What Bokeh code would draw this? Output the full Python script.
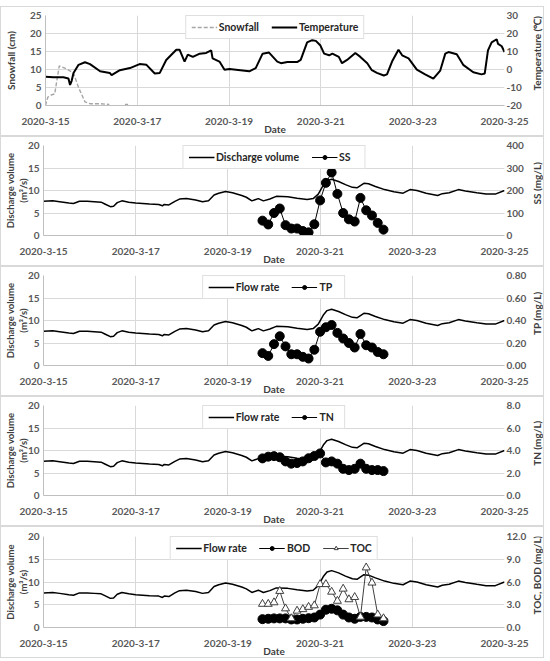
import math
from bokeh.plotting import figure
from bokeh.models import (Range1d, LinearAxis, FixedTicker, Legend, LegendItem,
                          NumeralTickFormatter, Spacer)
from bokeh.core.properties import value
from bokeh.layouts import column, row
from bokeh.embed import file_html
from bokeh.resources import INLINE

# x positions are days since 2020-03-15 00:00
date_ticks = [0, 2, 4, 6, 8, 10]
date_labels = ["2020-3-15", "2020-3-17", "2020-3-19", "2020-3-21", "2020-3-23", "2020-3-25"]

# snowfall (cm)
snow_day = [0.0, 0.05, 0.14, 0.20, 0.30, 0.45, 0.61, 0.72, 0.86, 0.97, 1.19, 1.39, math.nan, 1.73, 1.80]
snow_cm = [0.0, 2.3, 3.0, 3.2, 11.0, 10.2, 9.0, 5.0, 1.0, 0.5, 0.5, 0.3, math.nan, 0.3, 0.3]

# air temperature (deg C)
temp_day = [0.00, 0.17, 0.39, 0.50, 0.535, 0.57, 0.61, 0.72, 0.86, 0.97, 1.19, 1.40, 1.44, 1.62,
            1.84, 2.05, 2.20, 2.38, 2.49, 2.63, 2.85, 2.92, 3.03, 3.10, 3.21, 3.36, 3.50, 3.61,
            3.64, 3.79, 3.90, 4.01, 4.15, 4.44, 4.58, 4.73, 4.87, 5.05, 5.13, 5.27, 5.49, 5.56,
            5.70, 5.81, 5.89, 5.99, 6.07, 6.18, 6.25, 6.39, 6.46, 6.57, 6.75, 6.86, 7.01, 7.11,
            7.22, 7.37, 7.44, 7.55, 7.69, 7.77, 7.91, 8.09, 8.27, 8.45, 8.60, 8.71, 8.78, 8.96,
            9.10, 9.32, 9.50, 9.57, 9.64, 9.72, 9.83, 9.86, 9.94, 10.0]
temp_c = [-4.0, -4.3, -4.3, -5.0, -8.6, -6.3, -1.9, 2.6, 4.0, 3.0, -1.0, -1.9, -3.1, -0.4,
          0.8, 3.0, 2.6, -2.2, -1.9, 5.3, 11.0, 11.0, 4.4, 8.3, 7.0, 8.8, 9.2, 10.6,
          6.2, 4.4, -0.1, 0.3, -0.1, -1.0, 0.8, 8.8, 9.4, 4.4, 3.5, 4.2, 4.2, 5.3,
          15.1, 16.3, 15.9, 13.3, 8.8, 7.9, 8.8, 7.0, 3.5, 5.3, 9.2, 7.0, 3.5, -0.4,
          -1.9, -3.3, -2.7, 4.4, 11.0, 7.9, 6.2, -0.1, -2.7, -5.1, -0.6, 8.8, 9.7, 8.5,
          2.6, -1.5, -2.7, -2.2, 10.6, 15.1, 16.8, 14.2, 12.9, 9.7]

# discharge volume / flow rate (m3/s)
flow_day = [0.00, 0.20, 0.35, 0.55, 0.65, 0.78, 0.95, 1.10, 1.25, 1.33, 1.45, 1.52, 1.60, 1.70,
            1.85, 2.00, 2.30, 2.50, 2.58, 2.62, 2.72, 2.85, 2.95, 3.10, 3.30, 3.45, 3.58, 3.70,
            3.80, 3.95, 4.10, 4.30, 4.40, 4.52, 4.66, 4.77, 4.91, 5.05, 5.30, 5.50, 5.72, 5.85,
            5.96, 6.07, 6.15, 6.25, 6.40, 6.55, 6.70, 6.80, 6.95, 7.05, 7.20, 7.40, 7.60, 7.80,
            7.95, 8.10, 8.30, 8.55, 8.65, 8.80, 9.00, 9.15, 9.40, 9.60, 9.80, 10.0]
flow_m3s = [7.6, 7.7, 7.5, 7.2, 7.1, 7.6, 7.6, 7.5, 7.4, 7.0, 6.4, 6.5, 7.3, 7.7,
            7.4, 7.2, 7.0, 6.9, 6.6, 6.9, 6.8, 7.6, 8.1, 8.2, 7.9, 7.5, 7.7, 9.0,
            9.4, 9.8, 9.5, 8.9, 8.5, 7.7, 8.2, 7.7, 8.1, 8.7, 8.6, 8.3, 8.0, 8.2,
            9.2, 11.2, 12.2, 12.5, 12.0, 11.3, 10.7, 10.6, 11.6, 11.5, 10.9, 10.2, 9.7, 9.4,
            10.2, 10.0, 9.4, 8.9, 9.3, 9.5, 10.2, 9.9, 9.5, 9.2, 9.2, 10.0]

# water quality samples (3-hourly), mg/L
sample_day = [4.75, 4.875, 5.0, 5.125, 5.25, 5.375, 5.5, 5.625, 5.75, 5.875, 6.0,
              6.125, 6.25, 6.375, 6.5, 6.625, 6.75, 6.875, 7.0, 7.125, 7.25, 7.375]
ss = [66, 49, 100, 120, 46, 31, 31, 20, 14, 50, 156, 234, 280, 185, 100, 72, 62, 167, 112, 89, 56, 26]
tp = [0.11, 0.085, 0.19, 0.26, 0.17, 0.10, 0.10, 0.077, 0.062, 0.14, 0.30,
      0.34, 0.36, 0.29, 0.24, 0.20, 0.16, 0.28, 0.18, 0.16, 0.12, 0.10]
tn = [3.3, 3.45, 3.5, 3.4, 3.03, 2.83, 2.89, 3.03, 3.31, 3.51, 3.74,
      2.94, 3.03, 2.83, 2.37, 2.26, 2.37, 2.83, 2.37, 2.26, 2.26, 2.17]
bod = [1.1, 1.15, 1.2, 1.2, 1.2, 1.06, 1.06, 1.15, 1.23, 1.32, 1.7,
       2.34, 2.47, 2.26, 1.7, 1.32, 1.15, 1.4, 1.4, 1.32, 1.06, 0.85]
toc = [3.1, 3.1, 3.3, 4.8, 2.5, 1.2, 2.2, 2.4, 2.7, 2.9, 5.7,
       5.7, 4.7, 3.5, 5.1, 3.7, 4.0, 1.4, 7.9, 5.9, 1.7, 1.2]

FONT = "Lato"
TICK_COLOR = "#595959"
TITLE_COLOR = "#404040"
GRID = "#d9d9d9"
BOX = "1px solid #d9d9d9"
MAIN_W = 530
STRIP_W = 14
BOTTOM = 29
FLOW_LABEL = "Discharge volume\n(m\u00b3/s)"


def style_axis(ax):
    ax.major_label_text_font = FONT
    ax.major_label_text_font_style = "bold"
    ax.major_label_text_font_size = "10px"
    ax.major_label_text_color = TICK_COLOR
    ax.axis_label_text_font = FONT
    ax.axis_label_text_font_style = "bold"
    ax.axis_label_text_font_size = "10px"
    ax.axis_label_text_color = TITLE_COLOR
    ax.major_tick_line_color = None
    ax.minor_tick_line_color = None
    ax.major_tick_out = 0
    ax.major_tick_in = 0


def panel(height, top, left_end, left_label, left_standoff, right_range, right_ticks, right_fmt):
    p = figure(width=MAIN_W, height=height, x_range=Range1d(0, 10), y_range=Range1d(0, left_end),
               output_backend="svg", toolbar_location=None,
               min_border_left=42, min_border_right=27, min_border_top=top,
               min_border_bottom=BOTTOM,
               styles={"border-top": BOX, "border-left": BOX, "border-bottom": BOX,
                       "box-sizing": "border-box"})
    p.outline_line_color = None
    p.background_fill_color = "white"
    p.extra_y_ranges = {"right": Range1d(*right_range)}
    right = LinearAxis(y_range_name="right", ticker=FixedTicker(ticks=right_ticks),
                       formatter=NumeralTickFormatter(format=right_fmt))
    p.add_layout(right, "right")

    bottom = p.below[0]
    left = p.left[0]
    bottom.ticker = FixedTicker(ticks=date_ticks)
    bottom.major_label_overrides = dict(zip(date_ticks, date_labels))
    bottom.axis_label = "Date"
    bottom.axis_line_color = "#bfbfbf"

    left.ticker = FixedTicker(ticks=list(range(0, left_end + 1, 5)))
    left.axis_label = left_label
    left.axis_line_color = "#bfbfbf"

    right.axis_line_color = None

    for ax in (bottom, left, right):
        style_axis(ax)
    bottom.major_label_standoff = 12
    bottom.axis_label_standoff = -5
    left.major_label_standoff = 4
    left.axis_label_standoff = left_standoff
    if "\n" in left_label:
        left.axis_label_text_font_size = "9.5px"
    right.major_label_standoff = 2

    p.xgrid.ticker = FixedTicker(ticks=date_ticks)
    p.ygrid.ticker = FixedTicker(ticks=list(range(0, left_end + 1, 5)))
    p.xgrid.grid_line_color = GRID
    p.ygrid.grid_line_color = GRID
    return p


def title_strip(height, top, text):
    # narrow strip holding the right-hand axis title, reading bottom-to-top
    s = figure(width=STRIP_W, height=height, x_range=Range1d(0, STRIP_W),
               y_range=Range1d(0, height), output_backend="svg", toolbar_location=None,
               x_axis_location=None, y_axis_location=None, min_border=0,
               styles={"border-top": BOX, "border-right": BOX, "border-bottom": BOX,
                       "box-sizing": "border-box"})
    s.grid.visible = False
    s.outline_line_color = None
    frame_h = height - top - BOTTOM
    s.text(x=[STRIP_W / 2 - 0.5], y=[BOTTOM + frame_h / 2], text=[text], angle=math.pi / 2,
           text_align="center", text_baseline="middle", text_font=value(FONT),
           text_font_style="bold", text_font_size="10px", text_color=TITLE_COLOR)
    return s


def add_legend(p, items):
    leg = Legend(items=items, orientation="horizontal", location="top_center",
                 label_text_font=FONT, label_text_font_style="bold",
                 label_text_font_size="10.5px", label_text_color="#262626",
                 glyph_width=26, glyph_height=10, label_height=10, label_standoff=2,
                 spacing=12, padding=5, margin=0, border_line_color="#bfbfbf",
                 background_fill_color="white", background_fill_alpha=1.0)
    p.add_layout(leg)


def flow_line(p):
    return p.line(flow_day, flow_m3s, line_color="black", line_width=1.5)


def sample_series(p, values, marker="circle", fill="black", line="black", size=9):
    ln = p.line(sample_day, values, y_range_name="right", line_color=line, line_width=1)
    sc = p.scatter(sample_day, values, y_range_name="right", marker=marker, size=size,
                   fill_color=fill, line_color=line, line_width=1)
    return [ln, sc]


# Panel 1: snowfall and temperature
p1 = panel(130, 8, 25, "Snowfall (cm)", 10, (-20, 30), [-20, -10, 0, 10, 20, 30], "0")
r_snow = p1.line(snow_day, snow_cm, line_color="#a6a6a6", line_width=1.4, line_dash="4 2")
r_temp = p1.line(temp_day, temp_c, y_range_name="right", line_color="black", line_width=2)
add_legend(p1, [LegendItem(label="Snowfall", renderers=[r_snow]),
                LegendItem(label="Temperature", renderers=[r_temp])])
s1 = title_strip(130, 8, "Temperature (\u2103)")

# Panel 2: discharge and SS
p2 = panel(130, 8, 20, FLOW_LABEL, -4, (0, 400), [0, 100, 200, 300, 400], "0")
r_f2 = flow_line(p2)
r_ss = sample_series(p2, ss)
add_legend(p2, [LegendItem(label="Discharge volume", renderers=[r_f2]),
                LegendItem(label="SS", renderers=r_ss)])
s2 = title_strip(130, 8, "SS (mg/L)")

# Panel 3: flow and TP
p3 = panel(130, 8, 20, FLOW_LABEL, -4, (0, 0.8), [0, 0.2, 0.4, 0.6, 0.8], "0.00")
r_f3 = flow_line(p3)
r_tp = sample_series(p3, tp)
add_legend(p3, [LegendItem(label="Flow rate", renderers=[r_f3]),
                LegendItem(label="TP", renderers=r_tp)])
s3 = title_strip(130, 8, "TP (mg/L)")

# Panel 4: flow and TN
p4 = panel(130, 8, 20, FLOW_LABEL, -4, (0, 8), [0, 2, 4, 6, 8], "0.0")
r_f4 = flow_line(p4)
r_tn = sample_series(p4, tn)
add_legend(p4, [LegendItem(label="Flow rate", renderers=[r_f4]),
                LegendItem(label="TN", renderers=r_tn)])
s4 = title_strip(130, 8, "TN (mg/L)")

# Panel 5: flow, BOD and TOC
p5 = panel(132, 9, 20, FLOW_LABEL, -4, (0, 12), [0, 3, 6, 9, 12], "0.0")
r_f5 = flow_line(p5)
r_bod = sample_series(p5, bod)
r_toc = sample_series(p5, toc, marker="triangle", fill="white", line="#404040", size=8)
add_legend(p5, [LegendItem(label="Flow rate", renderers=[r_f5]),
                LegendItem(label="BOD", renderers=r_bod),
                LegendItem(label="TOC", renderers=r_toc)])
s5 = title_strip(132, 9, "TOC, BOD (mg/L)")

layout = column(Spacer(width=MAIN_W + STRIP_W, height=6),
                row(p1, s1, spacing=0), row(p2, s2, spacing=0), row(p3, s3, spacing=0),
                row(p4, s4, spacing=0), row(p5, s5, spacing=0), spacing=0)

open("out.html", "w").write(file_html(layout, INLINE))
